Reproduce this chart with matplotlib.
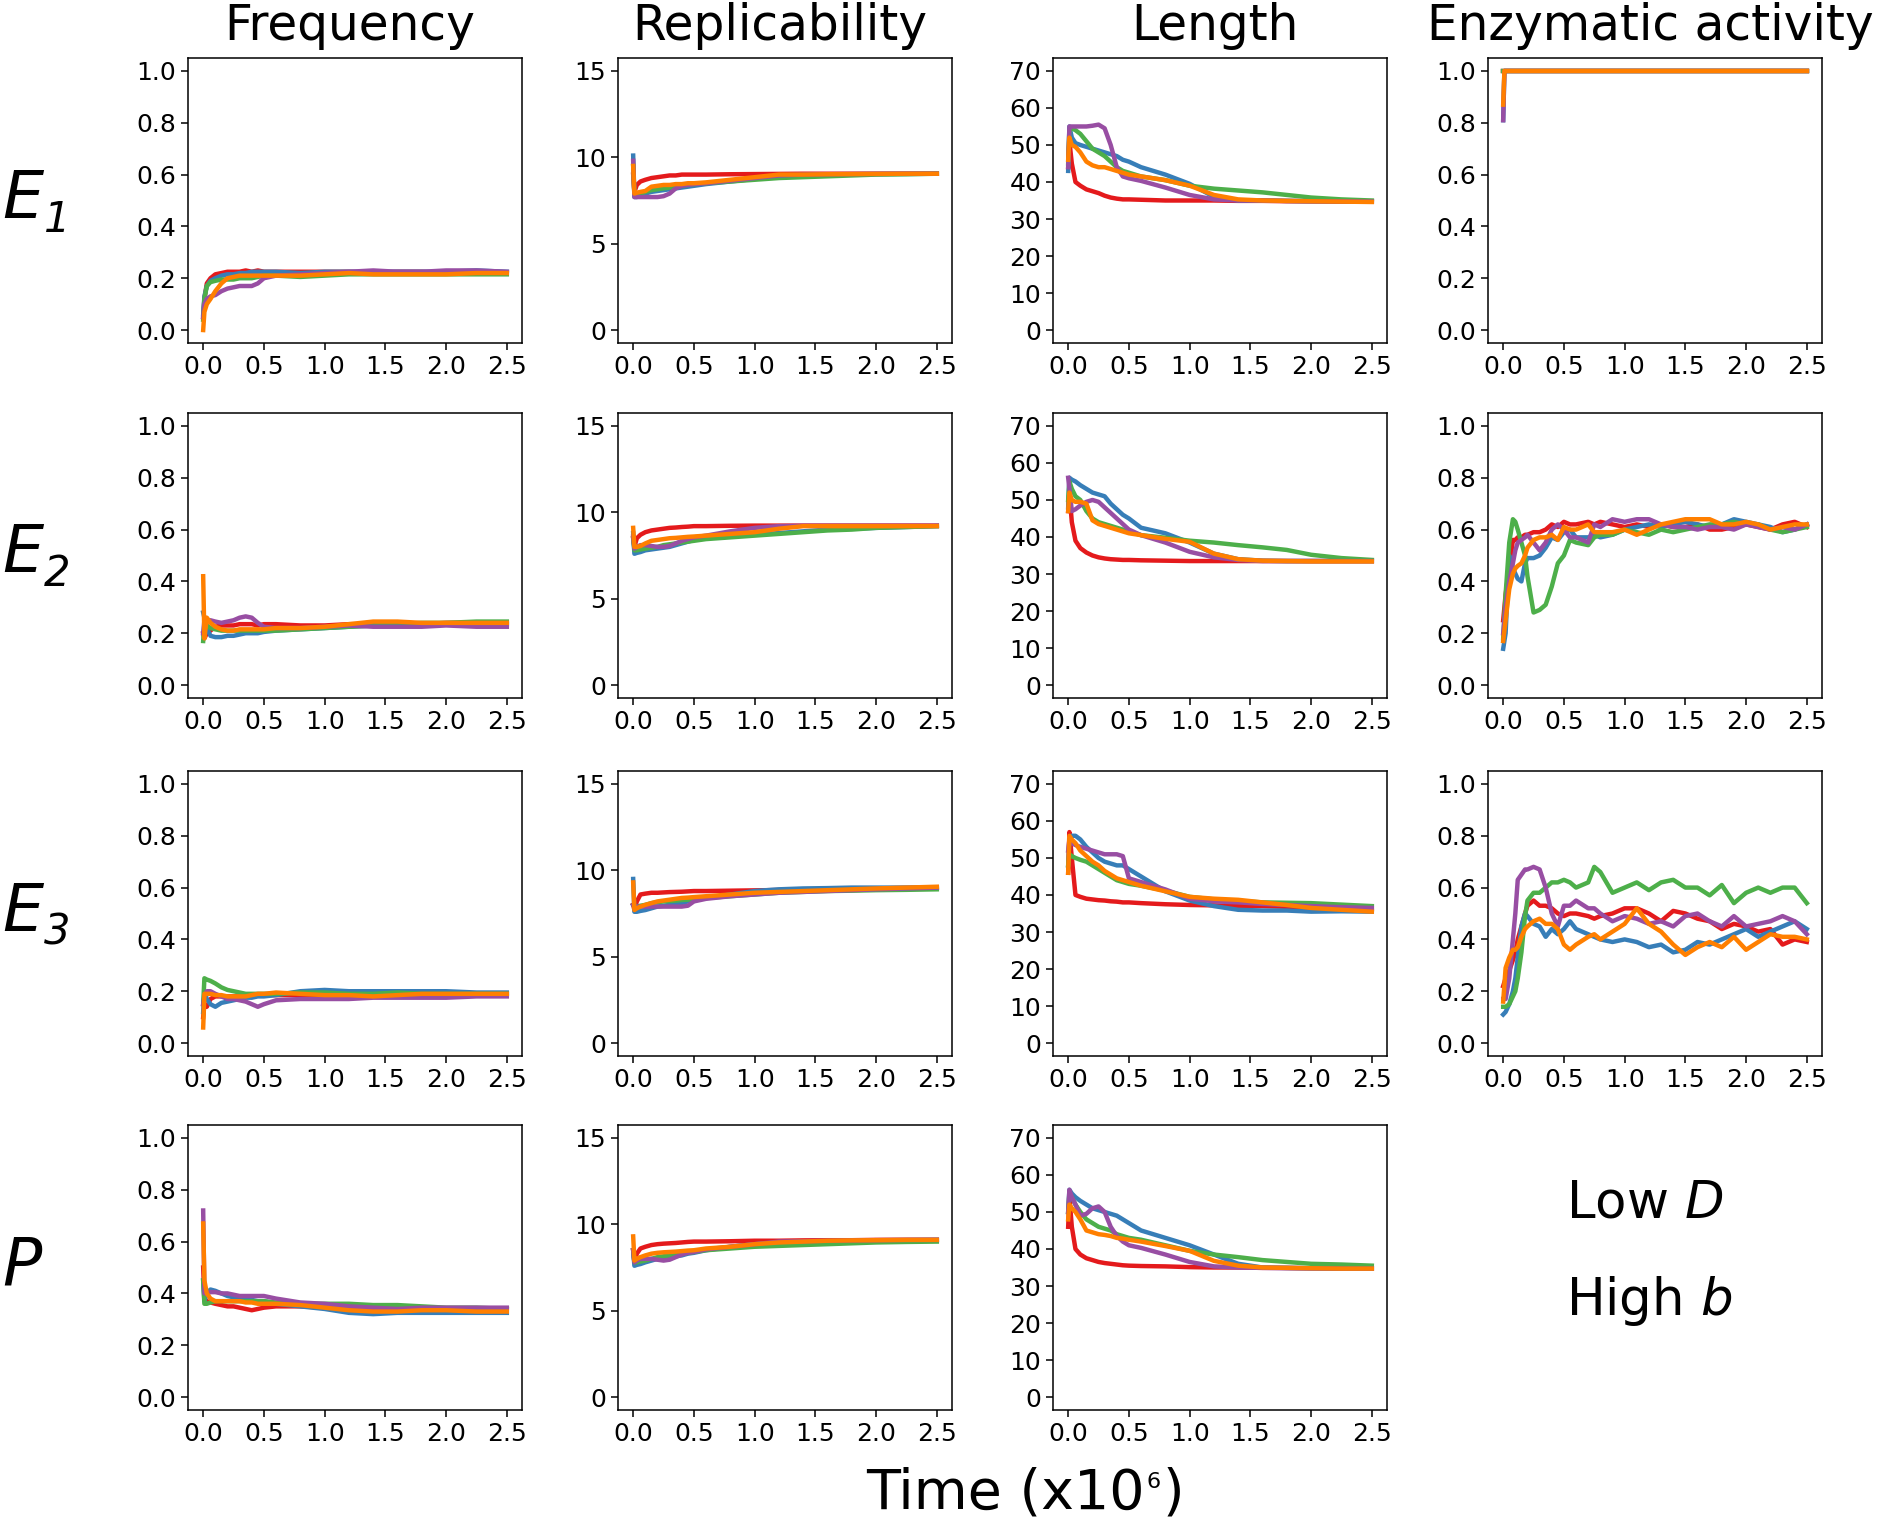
import matplotlib
matplotlib.use("Agg")
import matplotlib.pyplot as plt

t = [0, 0.01, 0.03, 0.06, 0.1, 0.15, 0.2, 0.25, 0.3, 0.35, 0.4, 0.45, 0.5,
     0.6, 0.8, 1.0, 1.2, 1.4, 1.6, 1.8, 2.0, 2.25, 2.5]
# finer grid for the noisy enzymatic-activity panels
tf = [0, 0.02, 0.05, 0.08, 0.1, 0.12, 0.15, 0.18, 0.2, 0.25, 0.3, 0.35, 0.4,
      0.45, 0.5, 0.55, 0.6, 0.7, 0.75, 0.8, 0.9, 1.0, 1.1, 1.2, 1.3, 1.4, 1.5,
      1.6, 1.7, 1.8, 1.9, 2.0, 2.1, 2.2, 2.3, 2.4, 2.5]

colors = ['#e41a1c', '#377eb8', '#4daf4a', '#984ea3', '#ff7f00']
col_titles = ['Frequency', 'Replicability', 'Length', 'Enzymatic activity']
row_names = ['E', 'E', 'E', 'P']
row_subs = ['1', '2', '3', '']

# each panel: [red, blue, green, purple, orange]
e1_freq = [
    [0.05, 0.12, 0.18, 0.20, 0.215, 0.22, 0.225, 0.225, 0.225, 0.23, 0.225, 0.23, 0.225, 0.225, 0.225, 0.225, 0.225, 0.22, 0.225, 0.225, 0.22, 0.225, 0.22],
    [0.06, 0.13, 0.17, 0.19, 0.20, 0.21, 0.215, 0.215, 0.22, 0.22, 0.225, 0.225, 0.225, 0.225, 0.22, 0.225, 0.225, 0.225, 0.225, 0.225, 0.225, 0.23, 0.225],
    [0.04, 0.12, 0.17, 0.185, 0.19, 0.195, 0.195, 0.195, 0.2, 0.2, 0.2, 0.205, 0.21, 0.21, 0.205, 0.21, 0.215, 0.215, 0.215, 0.215, 0.215, 0.215, 0.215],
    [0.05, 0.10, 0.12, 0.13, 0.135, 0.15, 0.16, 0.165, 0.17, 0.17, 0.17, 0.18, 0.20, 0.21, 0.215, 0.22, 0.225, 0.23, 0.225, 0.225, 0.23, 0.23, 0.225],
    [0.0, 0.07, 0.10, 0.12, 0.15, 0.18, 0.20, 0.205, 0.21, 0.21, 0.21, 0.21, 0.21, 0.21, 0.21, 0.215, 0.22, 0.215, 0.215, 0.215, 0.215, 0.22, 0.22],
]
e1_repl = [
    [9.0, 8.0, 8.4, 8.6, 8.7, 8.8, 8.85, 8.9, 8.95, 8.95, 9.0, 9.0, 9.0, 9.0, 9.02, 9.03, 9.04, 9.05, 9.05, 9.05, 9.05, 9.05, 9.05],
    [10.1, 7.7, 7.7, 7.8, 7.9, 8.0, 8.05, 8.1, 8.15, 8.2, 8.25, 8.3, 8.35, 8.45, 8.6, 8.75, 8.9, 8.97, 9.0, 9.02, 9.03, 9.04, 9.05],
    [9.5, 7.8, 7.8, 7.9, 8.0, 8.1, 8.15, 8.2, 8.25, 8.3, 8.35, 8.4, 8.45, 8.5, 8.6, 8.7, 8.8, 8.85, 8.9, 8.95, 9.0, 9.02, 9.05],
    [9.8, 7.7, 7.7, 7.7, 7.7, 7.7, 7.7, 7.75, 7.9, 8.2, 8.35, 8.4, 8.45, 8.5, 8.65, 8.8, 8.95, 9.0, 9.02, 9.03, 9.04, 9.05, 9.05],
    [9.5, 7.9, 7.95, 8.0, 8.05, 8.3, 8.35, 8.4, 8.4, 8.45, 8.45, 8.5, 8.5, 8.55, 8.7, 8.85, 9.0, 9.0, 9.02, 9.03, 9.04, 9.05, 9.05],
]
e1_len = [
    [44, 51, 45, 40, 39, 38, 37.5, 37, 36.3, 35.8, 35.5, 35.3, 35.3, 35.2, 35.0, 35.0, 35.0, 34.9, 34.9, 34.8, 34.8, 34.7, 34.7],
    [43, 55, 52, 50.5, 50, 49.5, 49, 48.5, 48, 47.5, 47, 46, 45.5, 44, 42, 39.5, 36, 35, 35, 34.9, 34.8, 34.8, 34.7],
    [45, 54, 54.5, 54, 53, 51, 49, 48, 47, 45.5, 44, 43, 42.5, 41.5, 40.5, 39, 38.2, 37.7, 37.2, 36.5, 35.8, 35.3, 35],
    [44, 55, 55, 55, 55, 55, 55.2, 55.5, 54.5, 50, 44, 41.5, 41, 40.3, 38.5, 36.5, 35.3, 35, 35, 34.9, 34.8, 34.8, 34.7],
    [46, 52, 50, 49.5, 48, 45.5, 44.5, 44, 44, 43.5, 43, 42.5, 42, 41.5, 40.5, 39, 36.5, 35.3, 35, 34.9, 34.8, 34.7, 34.6],
]
e1_enz = [
    [1.0] * 23,
    [0.81] + [1.0] * 22,
    [1.0] * 23,
    [0.81] + [1.0] * 22,
    [0.87] + [1.0] * 22,
]

e2_freq = [
    [0.20, 0.18, 0.20, 0.21, 0.225, 0.23, 0.23, 0.23, 0.235, 0.235, 0.235, 0.23, 0.235, 0.235, 0.23, 0.23, 0.235, 0.235, 0.24, 0.235, 0.24, 0.24, 0.24],
    [0.28, 0.26, 0.22, 0.19, 0.185, 0.185, 0.19, 0.19, 0.195, 0.20, 0.20, 0.20, 0.205, 0.21, 0.215, 0.22, 0.225, 0.23, 0.23, 0.235, 0.235, 0.235, 0.235],
    [0.17, 0.24, 0.23, 0.22, 0.215, 0.21, 0.21, 0.21, 0.21, 0.21, 0.21, 0.21, 0.21, 0.21, 0.215, 0.22, 0.225, 0.23, 0.235, 0.24, 0.24, 0.245, 0.245],
    [0.20, 0.25, 0.25, 0.25, 0.245, 0.24, 0.245, 0.25, 0.26, 0.265, 0.26, 0.24, 0.225, 0.22, 0.22, 0.225, 0.23, 0.225, 0.225, 0.225, 0.23, 0.225, 0.225],
    [0.42, 0.18, 0.26, 0.24, 0.225, 0.215, 0.21, 0.21, 0.215, 0.215, 0.215, 0.215, 0.215, 0.22, 0.22, 0.225, 0.235, 0.245, 0.245, 0.24, 0.24, 0.24, 0.24],
]
e2_repl = [
    [8.5, 8.0, 8.5, 8.7, 8.85, 8.95, 9.0, 9.05, 9.1, 9.12, 9.15, 9.17, 9.2, 9.2, 9.22, 9.23, 9.23, 9.23, 9.23, 9.23, 9.23, 9.23, 9.23],
    [8.8, 7.6, 7.65, 7.7, 7.8, 7.85, 7.9, 7.95, 8.0, 8.1, 8.2, 8.3, 8.4, 8.5, 8.6, 8.7, 8.8, 8.9, 9.0, 9.05, 9.1, 9.15, 9.2],
    [8.5, 7.8, 7.8, 7.85, 7.9, 7.95, 8.0, 8.1, 8.15, 8.2, 8.25, 8.3, 8.35, 8.45, 8.55, 8.65, 8.75, 8.85, 8.95, 9.0, 9.1, 9.15, 9.2],
    [8.6, 7.9, 8.0, 8.1, 8.1, 8.05, 8.0, 8.0, 8.05, 8.2, 8.35, 8.45, 8.55, 8.65, 8.9, 9.1, 9.2, 9.22, 9.22, 9.22, 9.22, 9.22, 9.22],
    [9.1, 8.0, 8.0, 8.05, 8.2, 8.35, 8.4, 8.45, 8.5, 8.52, 8.55, 8.58, 8.6, 8.65, 8.75, 8.85, 9.05, 9.2, 9.2, 9.2, 9.2, 9.2, 9.2],
]
e2_len = [
    [47, 52, 44, 39, 37, 35.8, 35, 34.5, 34.2, 34, 33.9, 33.8, 33.8, 33.7, 33.6, 33.5, 33.5, 33.5, 33.5, 33.5, 33.5, 33.5, 33.5],
    [48, 56, 55.5, 55, 54, 53, 52, 51.5, 51, 49, 47.5, 46, 45, 42.5, 41, 38.5, 35.5, 34, 33.6, 33.5, 33.5, 33.5, 33.5],
    [50, 55, 53, 51, 50, 47, 45, 44, 43.5, 43, 42.5, 42, 41.5, 40.5, 39.8, 39, 38.5, 37.8, 37.2, 36.5, 35.2, 34.3, 33.8],
    [56, 53, 47, 47.5, 48.5, 49.5, 50, 49.5, 48, 46.5, 45, 43.5, 42, 40.5, 38.5, 36, 34.5, 33.8, 33.5, 33.5, 33.5, 33.5, 33.5],
    [47, 52, 50, 49.5, 49.5, 49, 44.5, 43.5, 43, 42.5, 42, 41.5, 41, 40.5, 39.5, 38.7, 35.5, 34, 33.6, 33.5, 33.4, 33.4, 33.4],
]
e2_enz = [
    [0.25, 0.35, 0.45, 0.56, 0.56, 0.57, 0.57, 0.58, 0.58, 0.59, 0.59, 0.6, 0.62, 0.61, 0.63, 0.62, 0.62, 0.63, 0.62, 0.63, 0.62, 0.61, 0.62, 0.61, 0.62, 0.61, 0.61, 0.62, 0.6, 0.6, 0.61, 0.62, 0.61, 0.6, 0.62, 0.63, 0.61],
    [0.14, 0.2, 0.5, 0.45, 0.43, 0.41, 0.4, 0.47, 0.49, 0.49, 0.5, 0.53, 0.57, 0.56, 0.59, 0.6, 0.57, 0.57, 0.58, 0.57, 0.58, 0.6, 0.61, 0.62, 0.61, 0.62, 0.63, 0.62, 0.61, 0.62, 0.64, 0.63, 0.62, 0.61, 0.59, 0.6, 0.62],
    [0.18, 0.35, 0.55, 0.64, 0.63, 0.6, 0.55, 0.5, 0.42, 0.28, 0.29, 0.31, 0.38, 0.47, 0.5, 0.56, 0.55, 0.54, 0.57, 0.58, 0.58, 0.6, 0.59, 0.58, 0.6, 0.59, 0.6, 0.61, 0.62, 0.62, 0.63, 0.62, 0.62, 0.6, 0.59, 0.6, 0.61],
    [0.2, 0.3, 0.4, 0.47, 0.52, 0.55, 0.56, 0.57, 0.58, 0.55, 0.52, 0.55, 0.6, 0.62, 0.6, 0.57, 0.57, 0.55, 0.62, 0.61, 0.64, 0.63, 0.64, 0.64, 0.62, 0.61, 0.61, 0.6, 0.61, 0.61, 0.6, 0.62, 0.61, 0.6, 0.61, 0.6, 0.62],
    [0.17, 0.25, 0.37, 0.43, 0.45, 0.46, 0.47, 0.5, 0.53, 0.56, 0.57, 0.57, 0.58, 0.56, 0.61, 0.6, 0.6, 0.62, 0.59, 0.59, 0.59, 0.6, 0.58, 0.6, 0.62, 0.63, 0.64, 0.64, 0.64, 0.62, 0.62, 0.63, 0.62, 0.6, 0.61, 0.62, 0.62],
]

e3_freq = [
    [0.10, 0.15, 0.14, 0.17, 0.18, 0.18, 0.18, 0.18, 0.18, 0.18, 0.185, 0.185, 0.185, 0.185, 0.185, 0.185, 0.18, 0.18, 0.18, 0.185, 0.185, 0.19, 0.19],
    [0.12, 0.2, 0.17, 0.15, 0.14, 0.155, 0.16, 0.165, 0.17, 0.175, 0.175, 0.18, 0.18, 0.185, 0.2, 0.205, 0.2, 0.2, 0.2, 0.2, 0.2, 0.195, 0.195],
    [0.15, 0.25, 0.245, 0.24, 0.23, 0.215, 0.205, 0.2, 0.195, 0.19, 0.19, 0.19, 0.19, 0.19, 0.195, 0.195, 0.19, 0.19, 0.195, 0.19, 0.19, 0.19, 0.19],
    [0.15, 0.18, 0.2, 0.2, 0.19, 0.18, 0.17, 0.17, 0.165, 0.16, 0.15, 0.14, 0.15, 0.165, 0.17, 0.17, 0.17, 0.175, 0.175, 0.175, 0.175, 0.18, 0.18],
    [0.06, 0.19, 0.19, 0.19, 0.185, 0.185, 0.18, 0.18, 0.18, 0.18, 0.185, 0.19, 0.19, 0.195, 0.19, 0.185, 0.185, 0.18, 0.185, 0.19, 0.19, 0.19, 0.19],
]
e3_repl = [
    [8.0, 7.7, 8.2, 8.6, 8.65, 8.7, 8.7, 8.72, 8.74, 8.75, 8.76, 8.78, 8.8, 8.8, 8.82, 8.84, 8.86, 8.88, 8.9, 8.92, 8.95, 8.98, 9.0],
    [9.5, 7.6, 7.6, 7.65, 7.7, 7.8, 7.9, 7.95, 8.0, 8.05, 8.1, 8.2, 8.3, 8.4, 8.6, 8.8, 8.9, 8.95, 8.97, 9.0, 9.0, 9.0, 9.0],
    [8.0, 7.9, 7.9, 7.95, 8.0, 8.1, 8.15, 8.2, 8.22, 8.25, 8.28, 8.3, 8.32, 8.4, 8.5, 8.6, 8.7, 8.75, 8.8, 8.82, 8.85, 8.87, 8.9],
    [8.0, 7.9, 7.9, 7.9, 7.9, 7.9, 7.9, 7.9, 7.9, 7.9, 7.9, 7.95, 8.2, 8.35, 8.5, 8.6, 8.7, 8.75, 8.8, 8.85, 8.9, 8.95, 9.0],
    [9.3, 7.7, 7.8, 7.9, 8.0, 8.1, 8.2, 8.25, 8.3, 8.35, 8.4, 8.42, 8.45, 8.5, 8.6, 8.7, 8.75, 8.8, 8.85, 8.9, 8.95, 9.0, 9.05],
]
e3_len = [
    [46, 57, 50, 40, 39.5, 39, 38.8, 38.6, 38.5, 38.3, 38.2, 38, 38, 37.8, 37.5, 37.3, 37.2, 37, 37, 36.8, 36.5, 36.2, 36],
    [48, 55, 56, 56, 55, 53, 51.5, 50, 49, 48.5, 48, 48, 47, 45, 41, 38.5, 37, 36, 35.8, 35.8, 35.5, 35.6, 35.5],
    [48, 51, 50.5, 50, 49.5, 49, 48, 47, 46, 45, 44, 43.5, 43, 42.5, 41.2, 39.5, 38.8, 38.4, 38, 37.9, 37.8, 37.4, 37],
    [52, 55, 54, 53.5, 53, 52.5, 52, 51.5, 51, 51, 51, 50.5, 44.5, 43.5, 41.5, 39, 38.3, 38, 37.6, 37.3, 37, 36.7, 36.5],
    [46, 56, 55, 54, 52, 50.5, 49, 48, 46.5, 45.5, 44.5, 44, 43.5, 42.5, 41, 39.5, 39, 38.7, 38, 37.3, 36.5, 36, 35.5],
]
e3_enz = [
    [0.22, 0.25, 0.28, 0.32, 0.35, 0.4, 0.45, 0.5, 0.53, 0.55, 0.53, 0.53, 0.52, 0.5, 0.49, 0.5, 0.5, 0.49, 0.48, 0.49, 0.5, 0.52, 0.52, 0.5, 0.47, 0.51, 0.5, 0.48, 0.47, 0.44, 0.46, 0.45, 0.43, 0.44, 0.38, 0.4, 0.39],
    [0.11, 0.12, 0.15, 0.2, 0.25, 0.33, 0.45, 0.5, 0.49, 0.46, 0.45, 0.41, 0.44, 0.42, 0.44, 0.47, 0.44, 0.42, 0.41, 0.4, 0.39, 0.4, 0.39, 0.37, 0.38, 0.35, 0.36, 0.39, 0.38, 0.4, 0.42, 0.44, 0.41, 0.43, 0.45, 0.47, 0.44],
    [0.14, 0.14, 0.15, 0.18, 0.2, 0.25, 0.35, 0.49, 0.55, 0.58, 0.58, 0.6, 0.62, 0.62, 0.63, 0.62, 0.6, 0.62, 0.68, 0.66, 0.58, 0.6, 0.62, 0.59, 0.62, 0.63, 0.6, 0.6, 0.57, 0.61, 0.54, 0.58, 0.6, 0.58, 0.6, 0.6, 0.54],
    [0.17, 0.17, 0.25, 0.4, 0.5, 0.63, 0.65, 0.67, 0.67, 0.68, 0.67, 0.6, 0.5, 0.45, 0.53, 0.53, 0.55, 0.52, 0.52, 0.5, 0.47, 0.49, 0.48, 0.46, 0.47, 0.45, 0.49, 0.5, 0.47, 0.45, 0.49, 0.45, 0.46, 0.47, 0.49, 0.47, 0.42],
    [0.16, 0.29, 0.33, 0.36, 0.36, 0.37, 0.41, 0.44, 0.45, 0.47, 0.48, 0.46, 0.46, 0.44, 0.38, 0.36, 0.38, 0.41, 0.42, 0.4, 0.43, 0.46, 0.52, 0.46, 0.43, 0.38, 0.34, 0.37, 0.39, 0.37, 0.41, 0.36, 0.39, 0.42, 0.41, 0.41, 0.4],
]

p_freq = [
    [0.5, 0.38, 0.37, 0.365, 0.36, 0.355, 0.35, 0.35, 0.345, 0.34, 0.335, 0.34, 0.345, 0.35, 0.35, 0.345, 0.34, 0.34, 0.34, 0.34, 0.34, 0.34, 0.34],
    [0.45, 0.37, 0.40, 0.415, 0.41, 0.40, 0.39, 0.385, 0.38, 0.38, 0.375, 0.37, 0.37, 0.36, 0.35, 0.34, 0.325, 0.32, 0.325, 0.325, 0.325, 0.325, 0.325],
    [0.45, 0.36, 0.36, 0.365, 0.37, 0.37, 0.37, 0.37, 0.37, 0.37, 0.37, 0.37, 0.37, 0.365, 0.36, 0.36, 0.36, 0.355, 0.355, 0.35, 0.345, 0.345, 0.34],
    [0.72, 0.40, 0.40, 0.405, 0.405, 0.40, 0.40, 0.395, 0.39, 0.39, 0.39, 0.39, 0.39, 0.38, 0.365, 0.36, 0.35, 0.345, 0.34, 0.345, 0.345, 0.345, 0.345],
    [0.67, 0.45, 0.40, 0.38, 0.37, 0.37, 0.37, 0.37, 0.37, 0.365, 0.365, 0.36, 0.36, 0.36, 0.355, 0.345, 0.335, 0.33, 0.33, 0.335, 0.335, 0.33, 0.33],
]
p_repl = [
    [8.5, 7.8, 8.3, 8.6, 8.7, 8.8, 8.85, 8.88, 8.9, 8.92, 8.95, 8.98, 9.0, 9.0, 9.02, 9.05, 9.05, 9.07, 9.08, 9.08, 9.1, 9.1, 9.1],
    [8.5, 7.6, 7.65, 7.7, 7.8, 7.9, 8.0, 8.05, 8.1, 8.15, 8.2, 8.3, 8.35, 8.5, 8.7, 8.85, 8.9, 8.95, 9.0, 9.02, 9.05, 9.08, 9.1],
    [8.5, 7.8, 7.8, 7.85, 7.9, 8.0, 8.1, 8.15, 8.2, 8.25, 8.3, 8.35, 8.4, 8.5, 8.6, 8.7, 8.75, 8.8, 8.85, 8.9, 8.95, 8.98, 9.0],
    [8.5, 7.8, 7.9, 8.0, 8.0, 8.0, 7.95, 7.9, 7.95, 8.1, 8.25, 8.35, 8.4, 8.55, 8.7, 8.85, 9.0, 9.02, 9.05, 9.07, 9.08, 9.1, 9.1],
    [9.3, 7.9, 8.0, 8.1, 8.2, 8.3, 8.35, 8.38, 8.4, 8.42, 8.45, 8.48, 8.5, 8.6, 8.7, 8.85, 8.95, 9.0, 9.05, 9.07, 9.08, 9.1, 9.1],
]
p_len = [
    [46, 54, 46, 40, 38.5, 37.5, 37, 36.5, 36.2, 36, 35.8, 35.6, 35.5, 35.4, 35.3, 35.1, 35, 35, 34.9, 34.9, 34.8, 34.8, 34.8],
    [50, 56, 55, 54, 53, 52, 51, 50.5, 50, 49.5, 49, 48, 47, 45, 43, 41, 38.5, 36, 35, 34.9, 34.8, 34.7, 34.7],
    [50, 55, 54, 52, 50, 48, 47, 46, 45.5, 45, 44, 43.5, 43, 42.5, 41, 39.5, 38.5, 37.8, 37, 36.5, 36, 35.8, 35.5],
    [50, 56, 54, 52, 49, 49.5, 51, 51.5, 50, 46, 43.5, 42, 41, 40.3, 38.5, 36.5, 35.3, 35, 34.9, 34.8, 34.8, 34.7, 34.7],
    [48, 52, 51, 50, 48, 45, 44.5, 44, 43.8, 43.5, 43, 42.8, 42.5, 42, 40.8, 39.5, 36.8, 35.5, 35, 34.9, 34.8, 34.7, 34.7],
]

grid = [
    [(t, e1_freq), (t, e1_repl), (t, e1_len), (t, e1_enz)],
    [(t, e2_freq), (t, e2_repl), (t, e2_len), (tf, e2_enz)],
    [(t, e3_freq), (t, e3_repl), (t, e3_len), (tf, e3_enz)],
    [(t, p_freq), (t, p_repl), (t, p_len), None],
]

ylims = [(-0.05, 1.05), (-0.75, 15.75), (-3.5, 73.5), (-0.05, 1.05)]
yticks = [[0, 0.2, 0.4, 0.6, 0.8, 1.0], [0, 5, 10, 15],
          [0, 10, 20, 30, 40, 50, 60, 70], [0, 0.2, 0.4, 0.6, 0.8, 1.0]]
yfmt = ['{:.1f}', '{:.0f}', '{:.0f}', '{:.1f}']
xticks = [0, 0.5, 1.0, 1.5, 2.0, 2.5]

W, H = 1894, 1522
fig = plt.figure(figsize=(W / 100, H / 100), dpi=100)
rend = fig.canvas.get_renderer()

lefts = [188, 618, 1053, 1488]
tops = [58, 413, 771, 1125]
aw, ah = 334, 285

for r in range(4):
    for c in range(4):
        if grid[r][c] is None:
            continue
        x, series = grid[r][c]
        ax = fig.add_axes([lefts[c] / W, 1 - (tops[r] + ah) / H, aw / W, ah / H])
        for col, ys in zip(colors, series):
            ax.plot(x, ys, color=col, lw=3.2)
        ax.set_ylim(*ylims[c])
        ax.set_yticks(yticks[c])
        ax.set_yticklabels([yfmt[c].format(v) for v in yticks[c]])
        ax.set_xticks(xticks)
        ax.set_xticklabels(['{:.1f}'.format(v) for v in xticks])
        ax.tick_params(labelsize=18, length=5, width=1.1)
        for s in ax.spines.values():
            s.set_linewidth(1.1)
        if r == 0:
            fig.text((lefts[c] + aw / 2 - 5) / W, 1 - 40 / H, col_titles[c],
                     fontsize=35, ha='center', va='baseline')

# row labels: italic letter with an italic subscript
for r in range(4):
    yb = 1 - (tops[r] + ah / 2 + 17) / H
    lab = fig.text(2 / W, yb, row_names[r], fontsize=47, style='italic',
                   ha='left', va='baseline')
    if row_subs[r]:
        bb = lab.get_window_extent(rend)
        fig.text(bb.x1 / W + 1 / W, yb - 14 / H, row_subs[r], fontsize=30,
                 style='italic', ha='left', va='baseline')

fig.text(0.827, 0.209, r'Low $\mathit{D}$', fontsize=37, ha='left', va='center')
fig.text(0.827, 0.145, r'High $\mathit{b}$', fontsize=37, ha='left', va='center')

# x label with small superscript
yb = 1 - 1509 / H
t1 = fig.text(866 / W, yb, 'Time (x10', fontsize=40, ha='left', va='baseline')
bb = t1.get_window_extent(rend)
t2 = fig.text(bb.x1 / W + 2 / W, 1 - 1488 / H, '6', fontsize=16,
              ha='left', va='baseline')
bb = t2.get_window_extent(rend)
fig.text(bb.x1 / W + 2 / W, yb, ')', fontsize=40, ha='left', va='baseline')

fig.savefig('out.png', dpi=100)
